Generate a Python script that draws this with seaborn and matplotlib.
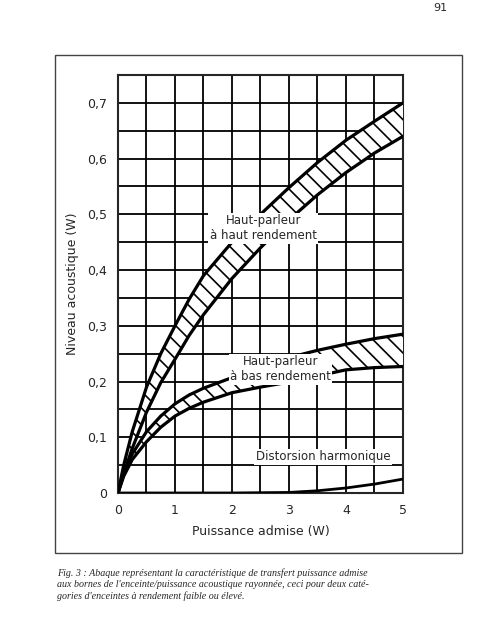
import matplotlib
matplotlib.use("Agg")
import matplotlib.pyplot as plt
import seaborn as sns
import numpy as np
import pandas as pd

sns.set_style("white")
plt.rcParams['font.family'] = ['DejaVu Sans']
plt.rcParams['hatch.linewidth'] = 1.2

x = [0, 0.1, 0.25, 0.5, 0.75, 1, 1.25, 1.5, 2, 2.5, 3, 3.5, 4, 4.5, 5]
haut_sup = [0, 0.05, 0.11, 0.19, 0.25, 0.30, 0.348, 0.39, 0.45, 0.50, 0.548, 0.593, 0.633, 0.667, 0.70]
haut_inf = [0, 0.035, 0.08, 0.145, 0.198, 0.24, 0.283, 0.32, 0.385, 0.44, 0.49, 0.535, 0.575, 0.61, 0.64]
bas_sup = [0, 0.035, 0.07, 0.11, 0.138, 0.16, 0.176, 0.188, 0.207, 0.226, 0.243, 0.256, 0.267, 0.277, 0.285]
bas_inf = [0, 0.03, 0.06, 0.092, 0.118, 0.138, 0.152, 0.163, 0.18, 0.19, 0.199, 0.21, 0.221, 0.225, 0.227]
dist_x = [0, 1, 2, 3, 3.5, 4, 4.5, 5]
dist_y = [0, 0, 0, 0.001, 0.004, 0.009, 0.016, 0.025]
ylabels = ["0", "0,1", "0,2", "0,3", "0,4", "0,5", "0,6", "0,7"]

W, H = 481, 640
fig = plt.figure(figsize=(W/100, H/100), dpi=100)
fig.patches.append(plt.Rectangle((55/W, 1-553/H), 407/W, 498/H, transform=fig.transFigure,
                                 fill=False, lw=1.0, ec="#444"))
ax = fig.add_axes([118/W, 1-493/H, 285/W, 418/H])
ax.set_xlim(0, 5)
ax.set_ylim(0, 0.75)

df = pd.DataFrame({"x": x, "hs": haut_sup, "hi": haut_inf, "bs": bas_sup, "bi": bas_inf})
ax.fill_between(x, haut_inf, haut_sup, facecolor="white", edgecolor="black", hatch="\\\\", lw=0, zorder=3)
ax.fill_between(x, bas_inf, bas_sup, facecolor="white", edgecolor="black", hatch="\\\\", lw=0, zorder=3)
for col in ["hs", "hi", "bs", "bi"]:
    sns.lineplot(data=df, x="x", y=col, ax=ax, color="black", lw=2.3, zorder=4)
sns.lineplot(x=dist_x, y=dist_y, ax=ax, color="black", lw=2.0, zorder=4)

ax.set_yticks(np.arange(0, 0.751, 0.05))
ax.set_xticks(np.arange(0, 5.01, 0.5))
ax.grid(True, color="black", lw=1.3, zorder=1)
ax.set_axisbelow(True)
ax.set_xticklabels([str(int(v)) if v == int(v) else "" for v in np.arange(0, 5.01, 0.5)], fontsize=9)
ax.set_yticklabels([ylabels[int(round(v*10))] if abs(v*10 - round(v*10)) < 1e-6 else "" for v in np.arange(0, 0.751, 0.05)], fontsize=9)
ax.tick_params(length=0, pad=8)
for s in ax.spines.values():
    s.set_linewidth(1.5)
ax.set_xlabel("Puissance admise (W)", fontsize=9, labelpad=6)
ax.set_ylabel("Niveau acoustique (W)", fontsize=9, labelpad=6)

box = dict(facecolor="white", edgecolor="none", pad=1)
ax.text(2.55, 0.475, "Haut-parleur\nà haut rendement", ha="center", va="center", fontsize=8.5, bbox=box, zorder=5, linespacing=1.2)
ax.text(2.85, 0.222, "Haut-parleur\nà bas rendement", ha="center", va="center", fontsize=8.5, bbox=box, zorder=5, linespacing=1.2)
ax.text(3.6, 0.065, "Distorsion harmonique", ha="center", va="center", fontsize=8.5, bbox=box, zorder=5)

fig.text(440/W, 1-8/H, "91", fontsize=8, ha="center", va="center")
fig.text(57/W, 1-568/H, "Fig. 3 : Abaque représentant la caractéristique de transfert puissance admise\n"
         "aux bornes de l'enceinte/puissance acoustique rayonnée, ceci pour deux caté-\n"
         "gories d'enceintes à rendement faible ou élevé.",
         fontsize=7.2, family="Liberation Serif", style="italic", va="top", ha="left", linespacing=1.3)
fig.savefig("out.png", dpi=100)
